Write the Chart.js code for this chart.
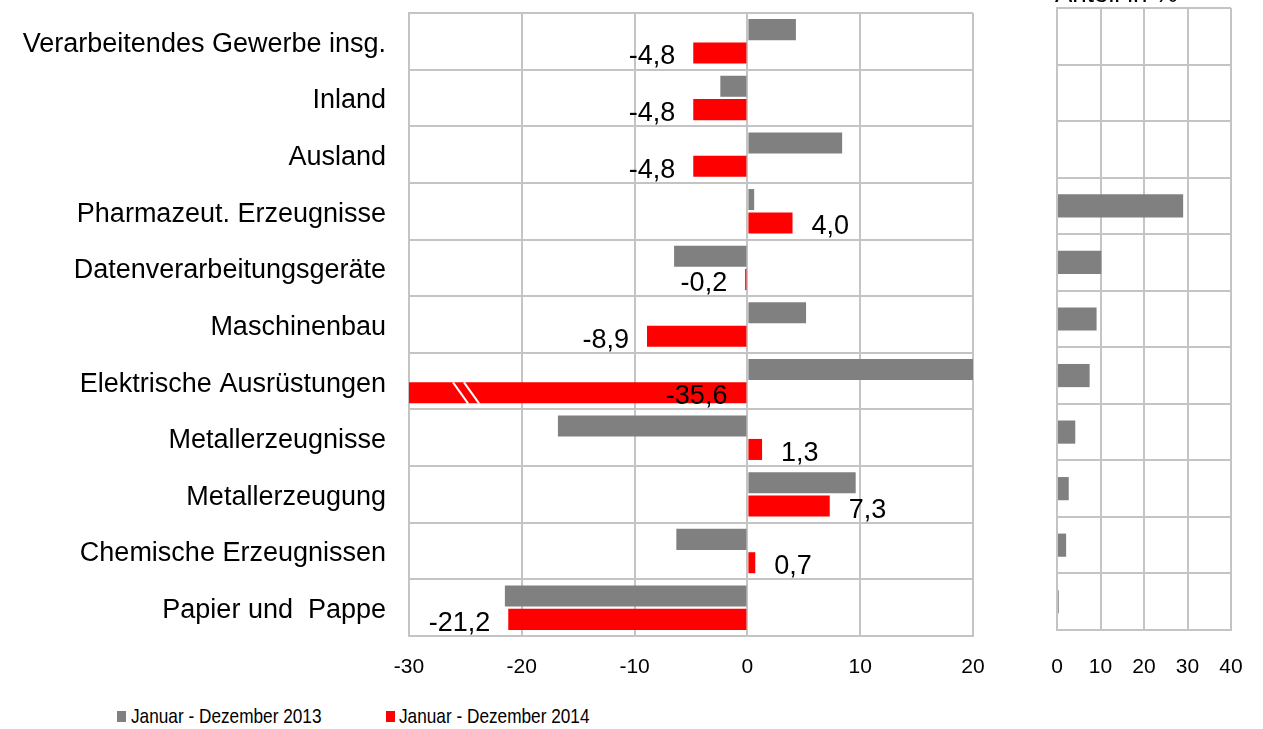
<!DOCTYPE html>
<html>
<head>
<meta charset="utf-8">
<script src="https://cdn.jsdelivr.net/npm/chart.js@4"></script>
<style>
  body { margin: 0; background: #fff; width: 1263px; height: 729px; overflow: hidden; position: relative; }
  #leftBox { position: absolute; left: 0; top: 0; width: 1000px; height: 690px; }
  #rightBox { position: absolute; left: 1000px; top: 0; width: 263px; height: 690px; }
  .lgBox { position: absolute; top: 711px; width: 9px; height: 11px; }
  .lgText { position: absolute; top: 704px; font: 21px 'Liberation Sans', Arial, sans-serif; color: #000;
            transform: scaleX(0.82); transform-origin: left center; white-space: nowrap; }
</style>
</head>
<body>
<div id="leftBox"><canvas id="myChart"></canvas></div>
<div id="rightBox"><canvas id="shareChart"></canvas></div>
<div id="legend"></div>
<script>
// data
const categories = ["Verarbeitendes Gewerbe insg.", "Inland", "Ausland", "Pharmazeut. Erzeugnisse",
  "Datenverarbeitungsgeräte", "Maschinenbau", "Elektrische Ausrüstungen", "Metallerzeugnisse",
  "Metallerzeugung", "Chemische Erzeugnissen", "Papier und  Pappe"];
const values2013 = [4.3, -2.4, 8.4, 0.6, -6.5, 5.2, 20, -16.8, 9.6, -6.3, -21.5];
const values2014 = [-4.8, -4.8, -4.8, 4.0, -0.2, -8.9, -35.6, 1.3, 7.3, 0.7, -21.2];
const shares = [null, null, null, 29.0, 10.2, 9.1, 7.5, 4.2, 2.7, 2.1, 0.4];
const seriesNames = ["Januar - Dezember 2013", "Januar - Dezember 2014"];
const xTicksLeft = [-30, -20, -10, 0, 10, 20];
const xTicksRight = [0, 10, 20, 30, 40];
const shareTitle = "Anteil in %";

const COLORS = { grey: '#808080', red: '#ff0000', grid: '#c4c4c4' };
const FONT = "'Liberation Sans', Arial, sans-serif";

// value labels next to the red bars
const redLabels = {
  id: 'redLabels',
  afterDatasetsDraw(chart) {
    const ctx = chart.ctx;
    const meta = chart.getDatasetMeta(1);
    const xScale = chart.scales.x;
    ctx.save();
    ctx.font = '27px ' + FONT;
    ctx.fillStyle = '#000';
    ctx.textBaseline = 'middle';
    meta.data.forEach((bar, i) => {
      const v = values2014[i];
      const txt = v.toFixed(1).replace('.', ',');
      const y = bar.y + 4;
      if (v < xScale.min) {
        // clipped bar: label inside, break marks near the left end
        ctx.textAlign = 'right';
        ctx.fillText(txt, bar.base - 19, y);
        const top = bar.y - bar.height / 2, bottom = bar.y + bar.height / 2;
        const left = chart.chartArea.left;
        ctx.strokeStyle = '#fff';
        ctx.lineWidth = 2;
        [44, 55].forEach(off => {
          ctx.beginPath();
          ctx.moveTo(left + off, top);
          ctx.lineTo(left + off + 15, bottom);
          ctx.stroke();
        });
      } else if (v < 0) {
        ctx.textAlign = 'right';
        ctx.fillText(txt, bar.x - 18, y);
      } else {
        ctx.textAlign = 'left';
        ctx.fillText(txt, bar.x + 19, y);
      }
    });
    ctx.restore();
  }
};

const gridOpts = { color: COLORS.grid, lineWidth: 2, drawTicks: false };
const noPadX = (h) => s => { s.height = h; s.paddingLeft = 0; s.paddingRight = 0; };
const noPadY = (w) => s => { s.width = w; s.paddingTop = 0; s.paddingBottom = 0; };

const myChart = new Chart(document.getElementById('myChart'), {
  type: 'bar',
  data: {
    labels: categories,
    datasets: [
      { label: seriesNames[0], data: values2013, backgroundColor: COLORS.grey,
        categoryPercentage: 0.825, barPercentage: 0.9 },
      { label: seriesNames[1], data: values2014, backgroundColor: COLORS.red,
        categoryPercentage: 0.825, barPercentage: 0.9 }
    ]
  },
  options: {
    indexAxis: 'y',
    responsive: true,
    maintainAspectRatio: false,
    animation: false,
    layout: { padding: { top: 13, right: 27, left: 0, bottom: 0 } },
    plugins: { legend: { display: false }, tooltip: { enabled: false } },
    scales: {
      x: {
        min: -30, max: 20,
        afterBuildTicks: s => { s.ticks = xTicksLeft.map(v => ({ value: v })); },
        afterFit: noPadX(54),
        grid: gridOpts,
        border: { color: COLORS.grid, width: 2 },
        ticks: { color: '#000', padding: 19, font: { family: FONT, size: 21 } }
      },
      y: {
        afterFit: noPadY(409),
        grid: gridOpts,
        border: { color: COLORS.grid, width: 2 },
        ticks: { color: '#000', padding: 23, labelOffset: 3, font: { family: FONT, size: 27 } }
      }
    }
  },
  plugins: [redLabels]
});

// cut-off heading above the small chart
const topTitle = {
  id: 'topTitle',
  afterDraw(chart) {
    const ctx = chart.ctx;
    ctx.save();
    ctx.font = '26px ' + FONT;
    ctx.fillStyle = '#000';
    ctx.textAlign = 'left';
    ctx.textBaseline = 'alphabetic';
    ctx.fillText(shareTitle, 55, 2);
    ctx.restore();
  }
};

const shareChart = new Chart(document.getElementById('shareChart'), {
  type: 'bar',
  data: {
    labels: categories,
    datasets: [
      { label: shareTitle, data: shares, backgroundColor: COLORS.grey,
        categoryPercentage: 0.41, barPercentage: 1 }
    ]
  },
  options: {
    indexAxis: 'y',
    responsive: true,
    maintainAspectRatio: false,
    animation: false,
    layout: { padding: { top: 8, right: 32, left: 0, bottom: 0 } },
    plugins: { legend: { display: false }, tooltip: { enabled: false } },
    scales: {
      x: {
        min: 0, max: 40,
        afterBuildTicks: s => { s.ticks = xTicksRight.map(v => ({ value: v })); },
        afterFit: noPadX(60),
        grid: gridOpts,
        border: { color: COLORS.grid, width: 2 },
        ticks: { color: '#000', padding: 25, font: { family: FONT, size: 21 } }
      },
      y: {
        afterFit: noPadY(57),
        grid: gridOpts,
        border: { color: COLORS.grid, width: 2 },
        ticks: { display: false }
      }
    }
  },
  plugins: [topTitle]
});

// legend below the left chart
const legendEl = document.getElementById('legend');
const legendPos = [[117, 131], [386, 399]];
[COLORS.grey, COLORS.red].forEach((c, i) => {
  const box = document.createElement('div');
  box.className = 'lgBox';
  box.style.left = legendPos[i][0] + 'px';
  box.style.background = c;
  const txt = document.createElement('div');
  txt.className = 'lgText';
  txt.style.left = legendPos[i][1] + 'px';
  txt.textContent = seriesNames[i];
  legendEl.appendChild(box);
  legendEl.appendChild(txt);
});
</script>
</body>
</html>
